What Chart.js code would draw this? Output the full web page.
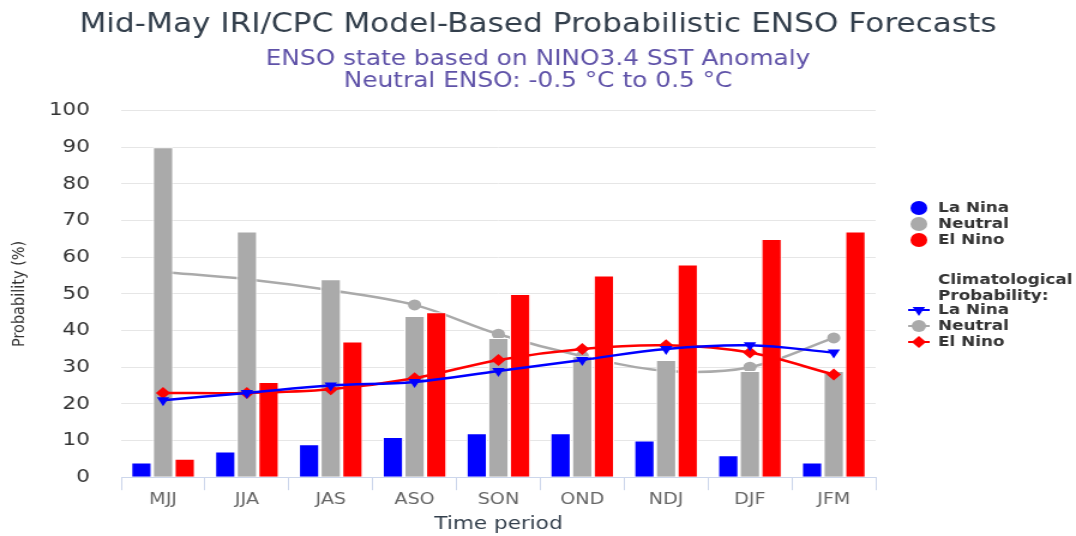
<!DOCTYPE html>
<html>
<head>
<meta charset="utf-8">
<title>ENSO forecast</title>
<script src="https://cdn.jsdelivr.net/npm/chart.js@4.4.1/dist/chart.umd.min.js"></script>
<style>
  html, body { margin: 0; padding: 0; background: #fff; }
  #wrap { width: 1076px; height: 536px; }
</style>
</head>
<body>
<div id="wrap">
  <!-- drawn narrower and stretched by css, the source picture is stretched the same way -->
  <canvas id="chart" width="897" height="536" style="width:1076px;height:536px"></canvas>
</div>
<script>
const periods = ['MJJ', 'JJA', 'JAS', 'ASO', 'SON', 'OND', 'NDJ', 'DJF', 'JFM']

// model probabilities (bars)
const laNina = [4, 7, 9, 11, 12, 12, 10, 6, 4]
const neutral = [90, 67, 54, 44, 38, 33, 32, 29, 29]
const elNino = [5, 26, 37, 45, 50, 55, 58, 65, 67]

// climatological probabilities (lines)
const climLaNina = [21, 23, 25, 26, 29, 32, 35, 36, 34]
const climNeutral = [56, 54, 51, 47, 39, 33, 29, 30, 38]
const climElNino = [23, 23, 24, 27, 32, 35, 36, 34, 28]

const BLUE = '#0000ff'
const GRAY = '#aaaaaa'
const RED = '#ff0000'
const FONT = '"DejaVu Sans", Verdana, sans-serif'

// legend on the right, two groups like the original
const sideLegend = {
  id: 'sideLegend',
  afterDraw(chart) {
    const ctx = chart.ctx
    const sx = chart.chartArea.right + 36
    const tx = sx + 16
    ctx.save()
    ctx.font = `bold 14px ${FONT}`
    ctx.textBaseline = 'middle'
    ctx.textAlign = 'left'

    let y = 208
    chart.data.datasets.filter(ds => ds.type === 'bar').forEach(ds => {
      ctx.fillStyle = ds.backgroundColor
      ctx.beginPath()
      ctx.arc(sx, y, 7, 0, Math.PI * 2)
      ctx.fill()
      ctx.fillStyle = '#333333'
      ctx.fillText(ds.label, tx, y)
      y += 16
    })

    y = 280
    ctx.fillStyle = '#333333'
    ctx.fillText('Climatological', tx, y)
    ctx.fillText('Probability:', tx, y + 16)
    y += 30

    chart.data.datasets.filter(ds => ds.type === 'line').forEach(ds => {
      ctx.strokeStyle = ds.borderColor
      ctx.fillStyle = ds.borderColor
      ctx.lineWidth = 2
      ctx.beginPath()
      ctx.moveTo(sx - 9, y)
      ctx.lineTo(sx + 9, y)
      ctx.stroke()
      Chart.helpers.drawPoint(ctx, {
        pointStyle: ds.pointStyle,
        rotation: ds.pointRotation || 0,
        radius: 6,
        borderWidth: 0
      }, sx, y)
      ctx.fillStyle = '#333333'
      ctx.fillText(ds.label, tx, y)
      y += 16
    })
    ctx.restore()
  }
}

new Chart(document.getElementById('chart'), {
  type: 'bar',
  data: {
    labels: periods,
    datasets: [
      { type: 'bar', label: 'La Nina', data: laNina, backgroundColor: BLUE, borderColor: '#ffffff', borderWidth: 1, order: 2 },
      { type: 'bar', label: 'Neutral', data: neutral, backgroundColor: GRAY, borderColor: '#ffffff', borderWidth: 1, order: 2 },
      { type: 'bar', label: 'El Nino', data: elNino, backgroundColor: RED, borderColor: '#ffffff', borderWidth: 1, order: 2 },
      {
        type: 'line', label: 'La Nina', data: climLaNina,
        borderColor: BLUE, backgroundColor: BLUE, borderWidth: 2.5, tension: 0.35,
        pointStyle: 'triangle', pointRotation: 180, pointRadius: 6, pointBorderWidth: 0, order: 1
      },
      {
        type: 'line', label: 'Neutral', data: climNeutral,
        borderColor: GRAY, backgroundColor: GRAY, borderWidth: 2.5, tension: 0.35,
        pointStyle: 'circle', pointRadius: 5.5, pointBorderWidth: 0, order: 3
      },
      {
        type: 'line', label: 'El Nino', data: climElNino,
        borderColor: RED, backgroundColor: RED, borderWidth: 2.5, tension: 0.35,
        pointStyle: 'rectRot', pointRadius: 6, pointBorderWidth: 0, order: 1
      }
    ]
  },
  options: {
    responsive: false,
    devicePixelRatio: 1,
    animation: false,
    layout: { padding: { top: 0, left: 0, right: 0, bottom: 1 } },
    datasets: {
      bar: { categoryPercentage: 0.775, barPercentage: 0.95 }
    },
    plugins: {
      legend: { display: false },
      tooltip: { enabled: false },
      title: {
        display: true,
        text: 'Mid-May IRI/CPC Model-Based Probabilistic ENSO Forecasts',
        color: '#333f4c',
        font: { family: FONT, size: 26, weight: 'normal', lineHeight: 1.2 },
        padding: { top: 10, bottom: 8 }
      },
      subtitle: {
        display: true,
        text: ['ENSO state based on NINO3.4 SST Anomaly', 'Neutral ENSO: -0.5 \u00b0C to 0.5 \u00b0C'],
        color: '#5f52a8',
        font: { family: FONT, size: 20.7, weight: 'normal', lineHeight: 1.05 },
        padding: { top: 0, bottom: 18 }
      }
    },
    scales: {
      x: {
        grid: { display: true, drawOnChartArea: false, drawTicks: true, tickLength: 13, color: '#ccd6eb', offset: true },
        border: { display: true, color: '#ccd6eb' },
        ticks: { color: '#666666', font: { family: FONT, size: 16 }, padding: 0, maxRotation: 0 },
        title: {
          display: true,
          text: 'Time period',
          color: '#333f4c',
          font: { family: FONT, size: 18 },
          padding: { top: 4, bottom: 0 }
        }
      },
      y: {
        min: 0,
        max: 100,
        afterFit(scale) { scale.width = 101 },
        grid: { color: '#e6e6e6', drawTicks: false },
        border: { display: false },
        ticks: { stepSize: 10, color: '#333333', font: { family: FONT, size: 18 }, padding: 26 },
        title: {
          display: true,
          text: 'Probability (%)',
          color: '#333333',
          font: { family: FONT, size: 14.5 },
          padding: { top: 8, bottom: 0 }
        }
      },
      // empty box on the right that keeps room for the legend
      legendRoom: {
        type: 'linear',
        position: 'right',
        display: true,
        afterFit(scale) { scale.width = 167 },
        grid: { display: false },
        border: { display: false },
        ticks: { display: false }
      }
    }
  },
  plugins: [sideLegend]
})
</script>
</body>
</html>
